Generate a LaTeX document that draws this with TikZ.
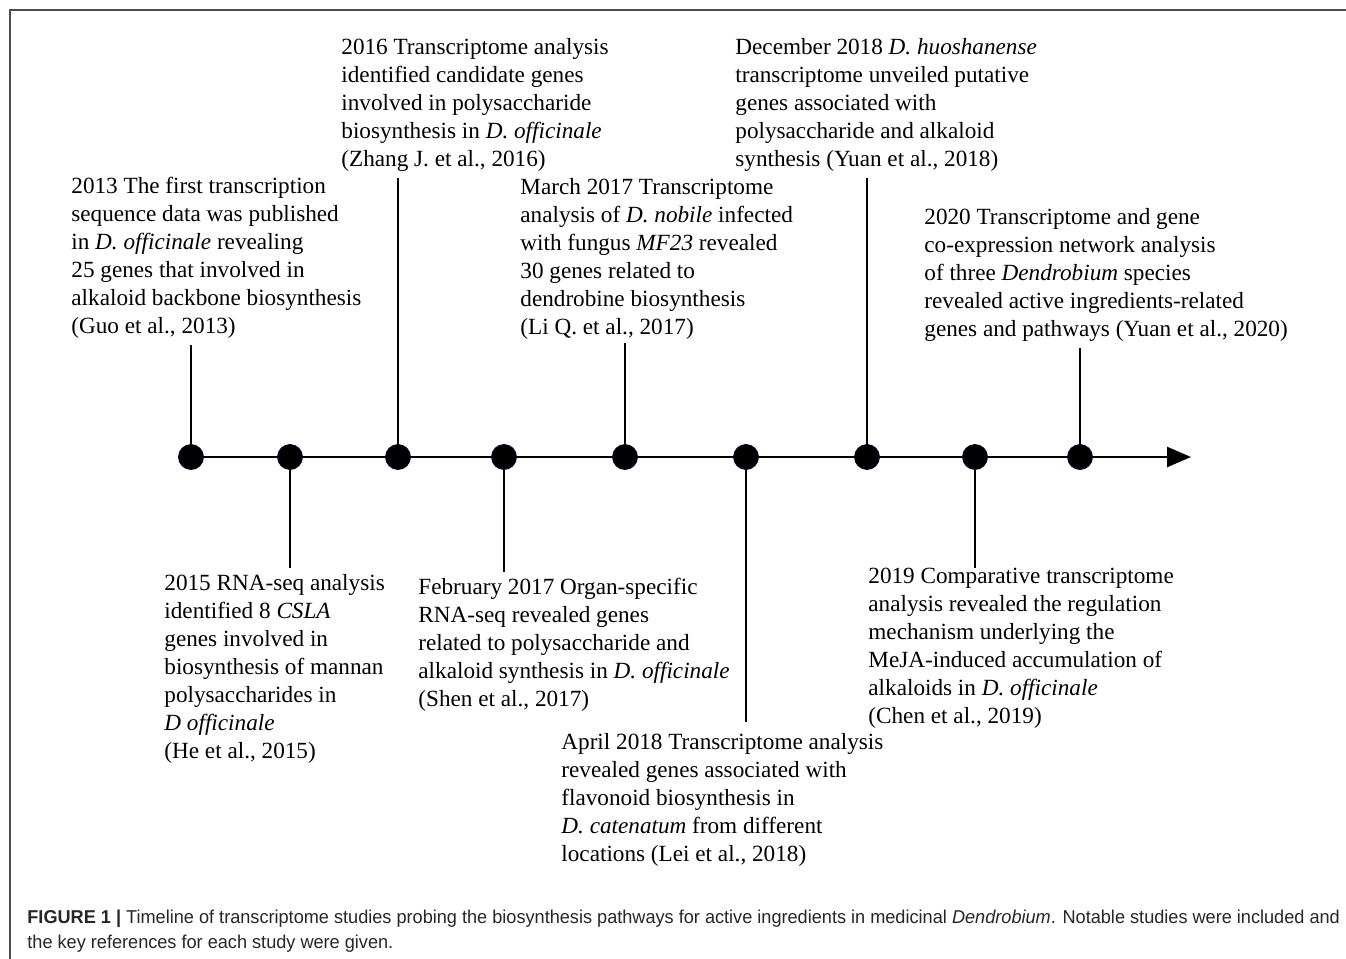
\documentclass[tikz,border=0pt]{standalone}
\usepackage{fontspec}
\setmainfont{Liberation Serif}
\newfontfamily\capfont[FakeStretch=0.975]{Liberation Sans}
\usetikzlibrary{arrows.meta}

\begin{document}
\begin{tikzpicture}[x=0.5pt,y=-0.5pt,
  every node/.style={font=\fontsize{11.6}{14}\selectfont},
  note/.style={anchor=north west,inner sep=0pt,align=left},
  dot/.style={circle,fill=black,draw=black!80!blue,line width=0.4pt,minimum size=12.5pt,inner sep=0pt},
  stem/.style={line width=1.3pt}]
\useasboundingbox (0,0) rectangle (1346,959);
\draw[black!70,line width=0.8pt] (10,959) -- (10,10) -- (1346,10);

% texts above the axis
\node[note] (t2013) at (71,177) {2013 The first transcription\\sequence data was published\\in \textit{D. officinale} revealing\\25 genes that involved in\\alkaloid backbone biosynthesis\\(Guo et al., 2013)};
\node[note] (t2016) at (341,38) {2016 Transcriptome analysis\\identified candidate genes\\involved in polysaccharide\\biosynthesis in \textit{D. officinale}\\(Zhang J. et al., 2016)};
\node[note] (t2017m) at (520,178) {March 2017 Transcriptome\\analysis of \textit{D. nobile} infected\\with fungus \textit{MF23} revealed\\30 genes related to\\dendrobine biosynthesis\\(Li Q. et al., 2017)};
\node[note] (t2018d) at (735,38) {December 2018 \textit{D. huoshanense}\\transcriptome unveiled putative\\genes associated with\\polysaccharide and alkaloid\\synthesis (Yuan et al., 2018)};
\node[note] (t2020) at (924,208) {2020 Transcriptome and gene\\co-expression network analysis\\of three \textit{Dendrobium} species\\revealed active ingredients-related\\genes and pathways (Yuan et al., 2020)};

% texts below the axis
\node[note] (t2015) at (164,574) {2015 RNA-seq analysis\\identified 8 \textit{CSLA}\\genes involved in\\biosynthesis of mannan\\polysaccharides in\\\textit{D officinale}\\(He et al., 2015)};
\node[note] (t2017f) at (418,578) {February 2017 Organ-specific\\RNA-seq revealed genes\\related to polysaccharide and\\alkaloid synthesis in \textit{D. officinale}\\(Shen et al., 2017)};
\node[note] (t2018a) at (561,733) {April 2018 Transcriptome analysis\\revealed genes associated with\\flavonoid biosynthesis in\\\textit{D. catenatum} from different\\locations (Lei et al., 2018)};
\node[note] (t2019) at (868,568) {2019 Comparative transcriptome\\analysis revealed the regulation\\mechanism underlying the\\MeJA-induced accumulation of\\alkaloids in \textit{D. officinale}\\(Chen et al., 2019)};

% ends of the stems and of the axis
\coordinate (e2013) at (191,345);
\coordinate (e2015) at (290,568);
\coordinate (e2016) at (398,178);
\coordinate (e2017f) at (504,572);
\coordinate (e2017m) at (625,343);
\coordinate (e2018a) at (746,722);
\coordinate (e2018d) at (867,178);
\coordinate (e2019) at (975,568);
\coordinate (e2020) at (1080,348);
\coordinate (tip) at (1191,457);

% events on the axis
\node[dot] (d2013) at (191,457) {};
\node[dot] (d2015) at (290,457) {};
\node[dot] (d2016) at (398,457) {};
\node[dot] (d2017f) at (504,457) {};
\node[dot] (d2017m) at (625,457) {};
\node[dot] (d2018a) at (746,457) {};
\node[dot] (d2018d) at (867,457) {};
\node[dot] (d2019) at (975,457) {};
\node[dot] (d2020) at (1080,457) {};

\draw[stem,-{Triangle[length=12pt,width=10pt]}] (d2013) -- (tip);
\draw[stem] (d2013) -- (e2013);
\draw[stem] (d2015) -- (e2015);
\draw[stem] (d2016) -- (e2016);
\draw[stem] (d2017f) -- (e2017f);
\draw[stem] (d2017m) -- (e2017m);
\draw[stem] (d2018a) -- (e2018a);
\draw[stem] (d2018d) -- (e2018d);
\draw[stem] (d2019) -- (e2019);
\draw[stem] (d2020) -- (e2020);

\node[anchor=north west,inner sep=0pt,align=left,text=black!85,font=\capfont\fontsize{9.3}{12.5}\selectfont] (cap) at (27,910) {\textbf{FIGURE 1} \textbf{|} Timeline of transcriptome studies probing the biosynthesis pathways for active ingredients in medicinal \textit{Dendrobium}. Notable studies were included and\\the key references for each study were given.};
\end{tikzpicture}
\end{document}
